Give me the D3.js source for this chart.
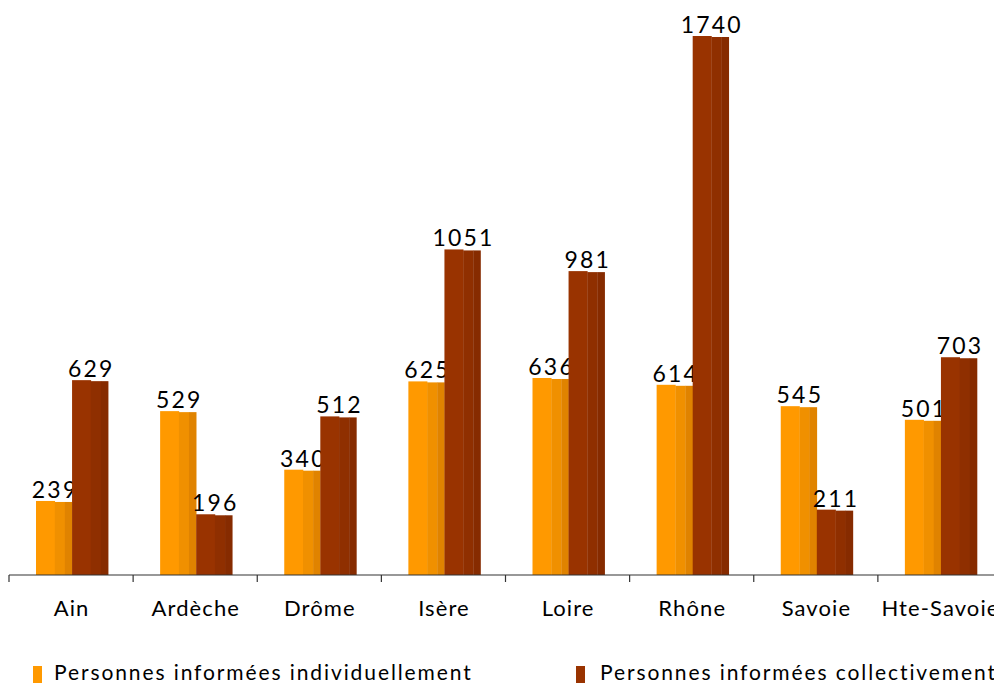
<!DOCTYPE html>
<html><head><meta charset="utf-8">
<script src="https://cdn.jsdelivr.net/npm/d3@7"></script>
<style>body{margin:0;background:#fff}svg{display:block}text{font-family:Lato,"Open Sans",sans-serif;fill:#000}</style>
</head><body>
<script>
const categories = ["Ain","Ardèche","Drôme","Isère","Loire","Rhône","Savoie","Hte-Savoie"];
const individuel = [239,529,340,625,636,614,545,501];
const collectif = [629,196,512,1051,981,1740,211,703];
const seriesNames = ["Personnes informées individuellement","Personnes informées collectivement"];
const colors = [["#FF9900","#F09000","#E08300"],["#993300","#8F2F00","#862B00"]];

const W=994,H=683;
const svg=d3.select("body").append("svg").attr("width",W).attr("height",H);
const x=d3.scaleBand().domain(categories).range([9,1002]).paddingInner(0).paddingOuter(0);
const y=d3.scaleLinear().domain([0,1740]).range([575,36]);
const inner=d3.scaleBand().domain([0,1]).range([27,x.bandwidth()-25]);
const series=[individuel,collectif];

series.forEach((vals,si)=>{
  const g=svg.append("g");
  const bw=inner.bandwidth();
  const parts=[[0,0.52,0],[0.52,0.8,1],[0.8,1,2]];
  categories.forEach((c,i)=>{
    const x0=x(c)+inner(si);
    parts.forEach(p=>{
      g.append("rect").attr("x",x0+p[0]*bw).attr("width",(p[1]-p[0])*bw+0.3)
        .attr("y",y(vals[i])+(p[2]===0?0:1)).attr("height",575-y(vals[i])-(p[2]===0?0:1))
        .attr("fill",colors[si][p[2]]);
    });
    svg.append("text").attr("x",x0+bw/2+1.1).attr("y",y(vals[i])-3)
      .attr("text-anchor","middle").attr("font-size",23).attr("letter-spacing",2.2).text(vals[i]);
  });
});

// axis
const axis=d3.axisBottom(x).tickSize(0).tickPadding(25);
const ag=svg.append("g").attr("transform","translate(0,575)").call(axis);
ag.select(".domain").attr("stroke","#333").attr("stroke-width",1.2).attr("d","M9,0H1002");
ag.selectAll(".tick text").attr("font-size",22).attr("font-family","Lato,sans-serif").attr("fill","#000")
  .attr("letter-spacing",1.1).attr("dx",0.55);
const bounds=categories.map(c=>x(c));
svg.append("g").selectAll("line").data(bounds).join("line")
  .attr("x1",d=>d).attr("x2",d=>d).attr("y1",575).attr("y2",582).attr("stroke","#333").attr("stroke-width",1.2);

// legend
const leg=[[33,54],[576,600]];
seriesNames.forEach((n,i)=>{
  svg.append("rect").attr("x",leg[i][0]).attr("y",666).attr("width",9).attr("height",17).attr("fill",colors[i][0]);
  svg.append("text").attr("x",leg[i][1]).attr("y",680).attr("font-size",21).attr("letter-spacing",1.9).text(n);
});
</script>
</body></html>
